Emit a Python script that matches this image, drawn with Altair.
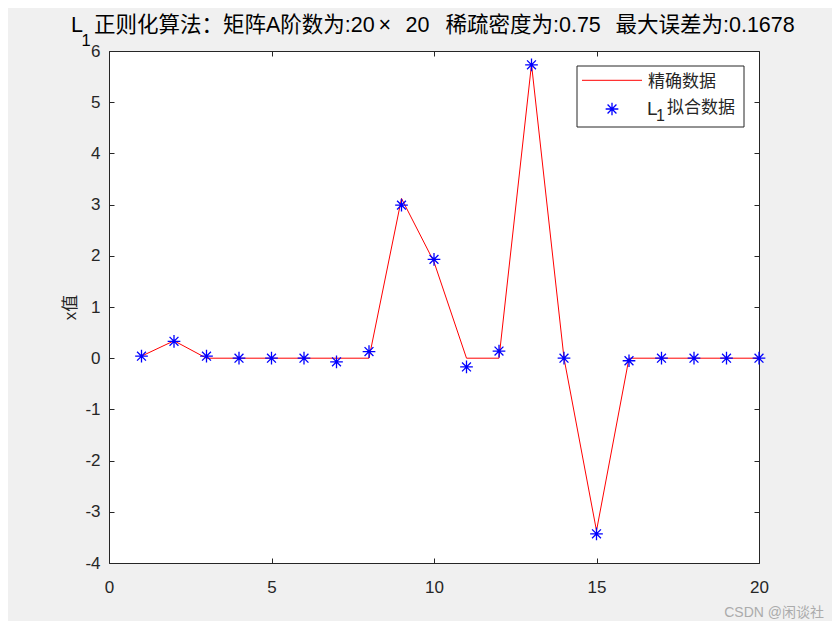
import altair as alt
import pandas as pd

# ---------------- data ----------------
idx = list(range(1, 21))
exact_vals = [0.04, 0.34, 0, 0, 0, 0, 0, 0, 3.12, 1.88, 0, 0, 5.74, 0, -3.37, 0, 0, 0, 0, 0]
fit_vals = [0.04, 0.33, 0.04, 0, 0, 0, -0.07, 0.13, 2.99, 1.93, -0.17, 0.14, 5.73, 0, -3.43, -0.05, 0, 0, 0, 0]
x_ticks = [0, 5, 10, 15, 20]
y_ticks = [-4, -3, -2, -1, 0, 1, 2, 3, 4, 5, 6]
title_parts = ["L", "1", "正则化算法：矩阵A阶数为:20", "×", "20", "稀疏密度为:0.75", "最大误差为:0.1678"]
legend_labels = ["精确数据", "L", "1", "拟合数据"]
y_title = "x值"
watermark = "CSDN @闲谈社"

W, H = 650, 512
FONT = "'Liberation Sans', Arial, 'Noto Sans CJK SC', sans-serif"
INK = "#262626"
STAR = "M-1,0L1,0M0,-1L0,1M-0.7,-0.7L0.7,0.7M-0.7,0.7L0.7,-0.7"

df = pd.DataFrame({"idx": idx, "exact": exact_vals, "fit": fit_vals})

xs = alt.Scale(domain=[0, 20], nice=False, zero=False)
ys = alt.Scale(domain=[-4, 6], nice=False, zero=False)

common = dict(grid=False, domain=False, tickSize=5, offset=-5, tickColor=INK, tickWidth=1)
ax_bottom = alt.Axis(orient="bottom", values=x_ticks, labelPadding=16, labelFontSize=17,
                     labelFont=FONT, labelColor=INK, labelFlush=False, labelOverlap=False,
                     title=None, **common)
ax_left = alt.Axis(orient="left", values=y_ticks, labelPadding=9, labelFontSize=17,
                   labelFont=FONT, labelColor=INK, labelFlush=False, labelOverlap=False,
                   labelExpr="replace(datum.label, '\u2212', '-')",
                   title=y_title, titleFont=FONT, titleFontSize=17, titleFontWeight="normal",
                   titleColor=INK, titlePadding=5, **common)
ax_top = alt.Axis(orient="top", values=x_ticks, labels=False, title=None, **common)
ax_right = alt.Axis(orient="right", values=y_ticks, labels=False, title=None, **common)

line = alt.Chart(df).mark_line(color="#ff0000", strokeWidth=1).encode(
    x=alt.X("idx:Q", scale=xs, axis=ax_bottom),
    y=alt.Y("exact:Q", scale=ys, axis=ax_left),
)
pts = alt.Chart(df).mark_point(shape=STAR, filled=False, color="#0000ff", size=161,
                               strokeWidth=1.3, opacity=1).encode(
    x=alt.X("idx:Q", scale=xs, axis=ax_top),
    y=alt.Y("fit:Q", scale=ys, axis=ax_right),
)

one = pd.DataFrame({"k": [0]})


def txt(s, x, y, size, align="left", baseline="alphabetic", color="#000000"):
    return alt.Chart(one).mark_text(text=s, align=align, baseline=baseline, fontSize=size,
                                    font=FONT, color=color).encode(
        x=alt.value(x), y=alt.value(y))


# title (pieces placed side by side, as in the original rendering)
TS = 21.5
title_layers = [
    txt(title_parts[0], -38, -18.7, TS),
    txt(title_parts[1], -27.5, -5, 16.5),
    txt(title_parts[2], -15, -18.7, TS),
    txt(title_parts[3], 269.5, -18.7, TS),
    txt(title_parts[4], 296.5, -18.7, TS),
    txt(title_parts[5], 336.5, -18.7, TS),
    txt(title_parts[6], 506.5, -18.7, TS),
]

# legend
leg_box = alt.Chart(one).mark_rect(fill="white", stroke=INK, strokeWidth=1).encode(
    x=alt.value(468), x2=alt.value(635), y=alt.value(15), y2=alt.value(76))
leg_line = alt.Chart(one).mark_rule(color="#ff0000", strokeWidth=1).encode(
    x=alt.value(473), x2=alt.value(533), y=alt.value(29.3))
leg_star = alt.Chart(one).mark_point(shape=STAR, filled=False, color="#0000ff", size=161,
                                     strokeWidth=1.3, opacity=1).encode(
    x=alt.value(503), y=alt.value(58))
leg_layers = [
    leg_box, leg_line, leg_star,
    txt(legend_labels[0], 539, 30.5, 17, baseline="middle", color=INK),
    txt(legend_labels[1], 538, 64, 19, color=INK),
    txt(legend_labels[2], 547, 70, 16, color=INK),
    txt(legend_labels[3], 558, 57, 17, baseline="middle", color=INK),
]

wm = txt(watermark, 715, 562, 14, align="right", baseline="middle", color="#ababab")

chart = alt.layer(line, pts, *title_layers, *leg_layers, wm).resolve_axis(
    x="independent", y="independent"
).properties(
    width=W, height=H,
    autosize=alt.AutoSizeParams(type="none"),
    padding={"left": 101, "top": 43, "right": 73, "bottom": 58},
    background="#f0f0f0",
).configure_view(fill="white", stroke=INK, strokeWidth=1)

chart.save("out.html", embed_options={"renderer": "svg", "actions": False})
